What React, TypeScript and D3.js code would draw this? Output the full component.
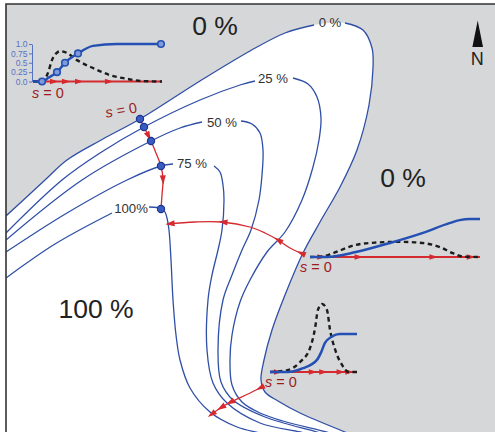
import React, { useEffect, useRef } from "react";
import * as d3 from "d3";

type Pt = [number, number];

// ---- Map data (grid units, origin at the top-left corner of the frame) ----
// Each contour is split where its label sits.
const zeroLeft: Pt[] = [[0, 212], [39, 176], [61, 156], [97, 135], [134, 115], [194, 77], [244, 47], [279, 29], [308, 21]];
const zeroRight: Pt[] = [[339, 19], [357, 26], [366, 44], [367, 64], [363, 101], [351, 146], [334, 183], [314, 218], [297, 249], [279, 291], [266, 326], [258, 356], [255, 376], [259, 388], [272, 397], [294, 409], [339, 428], [354, 434]];

const q25Left: Pt[] = [[0, 229], [56, 176], [94, 149], [138, 123], [194, 96], [234, 81], [249, 77]];
const q25Right: Pt[] = [[287, 74], [302, 80], [311, 93], [315, 114], [313, 136], [307, 163], [296, 196], [279, 228], [261, 248], [244, 276], [234, 298], [226, 331], [224, 356], [226, 381], [236, 398], [254, 409], [277, 417], [324, 429], [339, 434]];

const q50Left: Pt[] = [[0, 236], [76, 176], [145, 137], [174, 124], [196, 118]];
const q50Right: Pt[] = [[235, 117], [246, 120], [254, 129], [257, 146], [256, 171], [253, 196], [245, 226], [236, 246], [226, 271], [217, 296], [212, 346], [215, 378], [227, 396], [259, 413], [311, 428], [324, 432]];

const q75Left: Pt[] = [[0, 248], [61, 209], [121, 176], [155, 162], [167, 160]];
const q75Right: Pt[] = [[208, 162], [214, 168], [217, 181], [218, 196], [216, 226], [212, 246], [206, 271], [202, 296], [201, 346], [207, 379], [221, 399], [254, 419], [294, 428], [309, 432]];

const q100Left: Pt[] = [[0, 274], [49, 240], [106, 209]];
const q100Right: Pt[] = [[143, 203], [151, 203.5], [156, 205], [159, 208], [161, 214], [163, 226], [165, 256], [167, 296], [170, 331], [174, 356], [184, 384], [204, 408], [231, 423], [254, 429], [269, 433]];

const contourLevels = ["0 %", "25 %", "50 %", "75 %", "100%"];
const contourLabelAt: Pt[] = [[324, 23], [267, 79], [216, 123], [186, 164], [125, 209]];

const regionLabels = ["0 %", "0 %", "100 %"];
const regionLabelAt: Pt[] = [[209, 31], [397, 183], [90, 314]];

// Sampling paths (arrows give the direction of increasing s)
const path1: Pt[] = [[134, 115], [138, 123], [145, 137], [150, 149], [155, 162], [157, 176], [156, 191], [155, 205]];
const path2: Pt[] = [[297, 250], [284, 244], [272, 236], [259, 229], [244, 223], [216, 218], [189, 218], [161, 220]];
const path3: Pt[] = [[256, 383], [242, 390], [227, 397], [216, 403], [206, 410]];
const path1Arrows = [0.19, 0.68];
const path2Arrows = [0.0, 0.19, 0.6, 0.97];
const path3Arrows = [0.0, 0.6, 0.78, 0.99];

// Points where path 1 crosses the contours 0 %, 25 %, 50 %, 75 %, 100 %
const crossings: Pt[] = [[134, 115], [138, 123], [145, 137], [155, 162], [155, 205]];

// ---- Profile insets: s (0..1) against fraction / density ----
const profile1Fraction: Pt[] = [[0, 0], [0.07, 0], [0.12, 0.1], [0.186, 0.25], [0.248, 0.5], [0.349, 0.75], [0.465, 0.95], [0.65, 1.0], [0.992, 1.0]];
const profile1Density: Pt[] = [[0, 0], [0.07, 0], [0.116, 0.23], [0.147, 0.57], [0.194, 0.79], [0.21, 0.81], [0.264, 0.76], [0.341, 0.57], [0.465, 0.36], [0.597, 0.17], [0.729, 0.07], [0.853, 0.01], [1.0, 0]];
const profile1Markers: Pt[] = [[0.07, 0], [0.186, 0.25], [0.248, 0.5], [0.349, 0.75], [0.992, 1.0]];
const profile1Arrows = [0.155, 0.248, 0.349, 0.581];
const profileTicks = [0, 0.25, 0.5, 0.75, 1.0];
const profileTickLabels = ["0.0", "0.25", "0.5", "0.75", "1.0"];

const profile2Fraction: Pt[] = [[0, 0], [0.1, 0], [0.27, 0.13], [0.47, 0.37], [0.66, 0.63], [0.82, 0.89], [0.88, 0.97], [0.94, 1.0], [1.0, 1.0]];
const profile2Density: Pt[] = [[0, 0], [0.08, 0.02], [0.135, 0.1], [0.27, 0.32], [0.39, 0.38], [0.53, 0.4], [0.66, 0.37], [0.765, 0.26], [0.84, 0.1], [0.9, 0.01], [1.0, 0]];
const profile2Arrows = [0.06, 0.28, 0.72, 0.94];

const profile3Fraction: Pt[] = [[0, 0], [0.2, 0], [0.38, 0.1], [0.54, 0.32], [0.59, 0.53], [0.63, 0.76], [0.71, 0.93], [0.8, 1.0], [1.0, 1.0]];
const profile3Density: Pt[] = [[0, 0], [0.2, 0.05], [0.345, 0.26], [0.46, 0.63], [0.52, 1.18], [0.55, 1.63], [0.6, 1.79], [0.655, 1.63], [0.69, 1.11], [0.75, 0.58], [0.83, 0.18], [0.9, 0], [1.0, 0]];
const profile3Arrows = [0.08, 0.48, 0.6, 0.8, 0.9];

const BLUE = "#2f4fa6";
const INSET_BLUE = "#2450b4";
const RED = "#d42a30";
const DARK_RED = "#9c1c1c";
const GRAY = "#d6d7d9";
const FONT = "'Liberation Sans', Arial, Helvetica, sans-serif";

const mx = d3.scaleLinear().domain([0, 489]).range([6, 495]);
const my = d3.scaleLinear().domain([0, 428]).range([4, 432]);

type Sel = d3.Selection<SVGGElement, unknown, null, undefined>;

function arrowHead(g: Sel, x: number, y: number, angle: number, size: number) {
  g.append("path")
    .attr("d", `M${size},0L${-size * 0.55},${-size * 0.5}L${-size * 0.55},${size * 0.5}Z`)
    .attr("transform", `translate(${x},${y}) rotate(${angle})`)
    .attr("fill", RED);
}

function arrowsAlong(g: Sel, node: SVGPathElement, fracs: number[], size: number) {
  const L = node.getTotalLength();
  fracs.forEach((f) => {
    const l = Math.max(0.8, Math.min(L - 0.8, f * L));
    const p = node.getPointAtLength(l);
    const a = node.getPointAtLength(l - 0.8);
    const b = node.getPointAtLength(l + 0.8);
    const ang = (Math.atan2(b.y - a.y, b.x - a.x) * 180) / Math.PI;
    arrowHead(g, p.x, p.y, ang, size);
  });
}

function sLabel(g: Sel, x: number, y: number, anchor: string, rotate = 0) {
  const t = g.append("text")
    .attr("x", x).attr("y", y)
    .attr("text-anchor", anchor)
    .attr("font-family", FONT)
    .attr("font-size", 14.5)
    .attr("fill", DARK_RED);
  if (rotate) t.attr("transform", `rotate(${rotate},${x},${y})`);
  t.append("tspan").attr("font-style", "italic").text("s");
  t.append("tspan").text(" = 0");
}

interface InsetSpec {
  x0: number; x1: number; y0: number; h: number;
  fraction: Pt[]; density: Pt[]; arrows: number[];
  markers?: Pt[]; axis?: boolean;
  label: [number, number];
}

function drawInset(g: Sel, spec: InsetSpec) {
  const xs = d3.scaleLinear().domain([0, 1]).range([spec.x0, spec.x1]);
  const ys = d3.scaleLinear().domain([0, 1]).range([spec.y0, spec.y0 - spec.h]);
  const ig = g.append("g");

  if (spec.axis) {
    const ax = d3.axisLeft(ys)
      .tickValues(profileTicks)
      .tickFormat((_d, i) => profileTickLabels[i])
      .tickSize(3)
      .tickSizeOuter(0)
      .tickPadding(1.5);
    const a = ig.append("g").attr("transform", `translate(${spec.x0 - 1},0)`).call(ax);
    a.selectAll("path,line").attr("stroke", "#5573c2").attr("stroke-width", 1);
    a.selectAll("text").attr("fill", "#5573c2").attr("font-family", FONT).attr("font-size", 8.5);
  }

  // s axis
  ig.append("line")
    .attr("x1", xs(0)).attr("x2", xs(1))
    .attr("y1", ys(0)).attr("y2", ys(0))
    .attr("stroke", RED).attr("stroke-width", 2.2);
  spec.arrows.forEach((s) => arrowHead(ig, xs(s), ys(0), 0, 5.5));

  const line = d3.line<Pt>().x((d) => xs(d[0])).y((d) => ys(d[1])).curve(d3.curveMonotoneX);
  ig.append("path").attr("d", line(spec.density)!)
    .attr("fill", "none").attr("stroke", "#1c1c1c").attr("stroke-width", 2.4)
    .attr("stroke-dasharray", "4.5,3.5");
  ig.append("path").attr("d", line(spec.fraction)!)
    .attr("fill", "none").attr("stroke", INSET_BLUE).attr("stroke-width", 2.5);

  if (spec.markers) {
    ig.selectAll("circle.m").data(spec.markers).enter().append("circle")
      .attr("cx", (d) => xs(d[0])).attr("cy", (d) => ys(d[1])).attr("r", 3.3)
      .attr("fill", "#7f9ad9").attr("stroke", INSET_BLUE).attr("stroke-width", 1.6);
  }
  sLabel(ig, spec.label[0], spec.label[1], "start");
}

export default function App() {
  const ref = useRef<SVGSVGElement>(null);

  useEffect(() => {
    const svg = d3.select(ref.current!);
    svg.selectAll("*").remove();

    svg.append("defs").append("clipPath").attr("id", "frameClip")
      .append("rect")
      .attr("x", mx(0)).attr("y", my(0))
      .attr("width", mx(489) - mx(0)).attr("height", my(428) - my(0));

    const g = svg.append("g").attr("clip-path", "url(#frameClip)") as unknown as Sel;

    g.append("rect")
      .attr("x", mx(0)).attr("y", my(0))
      .attr("width", mx(489) - mx(0)).attr("height", my(428) - my(0))
      .attr("fill", GRAY);

    const smooth = d3.line<Pt>().x((d) => mx(d[0])).y((d) => my(d[1])).curve(d3.curveCatmullRom.alpha(0.5));

    // area above 0 % (white)
    const zeroAll = [...zeroLeft, ...zeroRight];
    g.append("path")
      .attr("d", smooth(zeroAll) + `L${mx(-10)},${my(440)}L${mx(-10)},${my(zeroLeft[0][1])}Z`)
      .attr("fill", "#ffffff");

    // contour lines
    const pieces = [zeroLeft, zeroRight, q25Left, q25Right, q50Left, q50Right, q75Left, q75Right, q100Left, q100Right];
    pieces.forEach((pts) => {
      g.append("path").attr("d", smooth(pts)!)
        .attr("fill", "none").attr("stroke", BLUE).attr("stroke-width", 1.3);
    });

    contourLevels.forEach((lab, i) => {
      g.append("text")
        .attr("x", mx(contourLabelAt[i][0])).attr("y", my(contourLabelAt[i][1]))
        .attr("text-anchor", "middle")
        .attr("font-family", FONT).attr("font-size", 13.2)
        .attr("fill", "#333")
        .text(lab);
    });

    regionLabels.forEach((lab, i) => {
      g.append("text")
        .attr("x", mx(regionLabelAt[i][0])).attr("y", my(regionLabelAt[i][1]))
        .attr("text-anchor", "middle")
        .attr("font-family", FONT).attr("font-size", 26.5)
        .attr("fill", "#222")
        .text(lab);
    });

    // sampling paths
    const redLine = d3.line<Pt>().x((d) => mx(d[0])).y((d) => my(d[1])).curve(d3.curveCatmullRom.alpha(0.5));
    const paths: [Pt[], number[]][] = [[path1, path1Arrows], [path2, path2Arrows], [path3, path3Arrows]];
    paths.forEach(([pts, fr]) => {
      const p = g.append("path").attr("d", redLine(pts)!)
        .attr("fill", "none").attr("stroke", RED).attr("stroke-width", 1.3);
      arrowsAlong(g, p.node() as SVGPathElement, fr, 6);
    });

    g.selectAll("circle.cross").data(crossings).enter().append("circle")
      .attr("cx", (d) => mx(d[0])).attr("cy", (d) => my(d[1])).attr("r", 3.6)
      .attr("fill", "#3a5cc0").attr("stroke", "#1d3590").attr("stroke-width", 1.2);

    sLabel(g, 122, 115, "middle", -10);

    // profile insets
    drawInset(g, {
      x0: 33, x1: 162, y0: 81.5, h: 37.5,
      fraction: profile1Fraction, density: profile1Density, arrows: profile1Arrows,
      markers: profile1Markers, axis: true, label: [32, 98],
    });
    drawInset(g, {
      x0: 310, x1: 480, y0: 257, h: 38,
      fraction: profile2Fraction, density: profile2Density, arrows: profile2Arrows,
      label: [300, 272],
    });
    drawInset(g, {
      x0: 270, x1: 357, y0: 372, h: 38,
      fraction: profile3Fraction, density: profile3Density, arrows: profile3Arrows,
      label: [265, 387],
    });

    // north arrow
    g.append("path").attr("d", "M477.7,20.5L483,47L472.4,47Z").attr("fill", "#111");
    g.append("text").attr("x", 477.2).attr("y", 65).attr("text-anchor", "middle")
      .attr("font-family", FONT).attr("font-size", 18).attr("fill", "#222").text("N");

    // frame (top and left edges)
    svg.append("path")
      .attr("d", `M${mx(0)},${my(428) + 2}L${mx(0)},${my(0)}L${mx(489) + 2},${my(0)}`)
      .attr("fill", "none").attr("stroke", "#333").attr("stroke-width", 1.6);
  }, []);

  return (
    <svg
      ref={ref}
      width={495}
      height={432}
      style={{ position: "absolute", left: 0, top: 0, display: "block", background: "#fff" }}
    />
  );
}
